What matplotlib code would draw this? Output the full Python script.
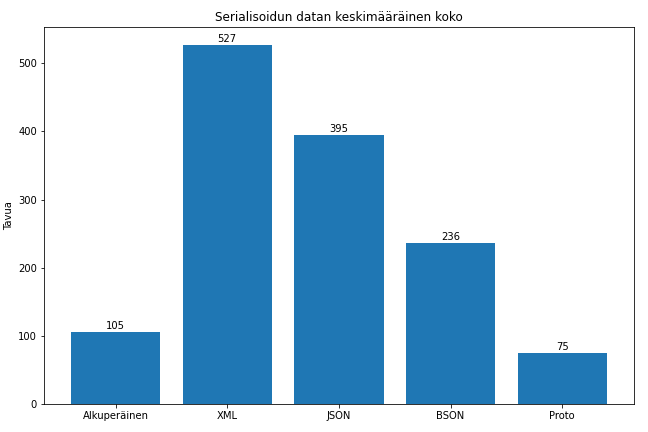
import matplotlib
matplotlib.use("Agg")
import matplotlib.pyplot as plt

categories = ["Alkuperäinen", "XML", "JSON", "BSON", "Proto"]
sizes = [105, 527, 395, 236, 75]

fig, ax = plt.subplots(figsize=(9, 6), dpi=72)
bars = ax.bar(categories, sizes, color="#1f77b4")
for rect, val in zip(bars, sizes):
    ax.annotate(f"{val}", xy=(rect.get_x() + rect.get_width() / 2, rect.get_height()),
                xytext=(0, 1), textcoords="offset points", ha="center", va="bottom")
ax.set_ylabel("Tavua")
ax.set_title("Serialisoidun datan keskimääräinen koko")
fig.subplots_adjust(left=0.068, right=0.978, top=0.9375, bottom=0.065)
fig.savefig("out.png", dpi=72)
